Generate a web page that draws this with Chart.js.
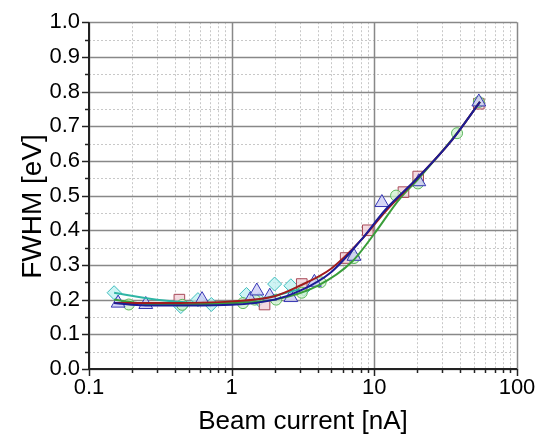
<!DOCTYPE html>
<html>
<head>
<meta charset="utf-8">
<script src="https://cdn.jsdelivr.net/npm/chart.js@4"></script>
<style>
  html, body { margin: 0; padding: 0; background: #fff; }
  #wrap { width: 535px; height: 438px; }
</style>
</head>
<body>
<div id="wrap"><canvas id="myChart" width="535" height="438"></canvas></div>
<script>
// tick positions
const xMajor = [0.1, 1, 10, 100];
const xMinor = [0.2, 0.3, 0.4, 0.5, 0.6, 0.7, 0.8, 0.9, 2, 3, 4, 5, 6, 7, 8, 9, 20, 30, 40, 50, 60, 70, 80, 90];
const yMajor = [0, 0.1, 0.2, 0.3, 0.4, 0.5, 0.6, 0.7, 0.8, 0.9, 1.0];
const yMinor = [0.05, 0.15, 0.25, 0.35, 0.45, 0.55, 0.65, 0.75, 0.85, 0.95];

// measured points
const sqX = [0.43, 1.7, 3.1, 6.3, 9.0, 16, 20.3, 54];
const sqY = [0.20, 0.186, 0.245, 0.32, 0.40, 0.51, 0.555, 0.765];
const ciX = [0.19, 0.45, 1.2, 1.45, 2.05, 3.1, 4.2, 7.2, 14.2, 20.2, 38, 54];
const ciY = [0.186, 0.185, 0.19, 0.20, 0.20, 0.22, 0.25, 0.32, 0.50, 0.535, 0.68, 0.77];
const trX = [0.16, 0.25, 0.62, 1.35, 1.5, 1.85, 2.6, 3.8, 7.2, 11.3, 20.5, 54];
const trY = [0.19, 0.186, 0.20, 0.20, 0.225, 0.21, 0.206, 0.25, 0.325, 0.48, 0.54, 0.77];
const diX = [0.15, 0.44, 0.58, 0.72, 1.27, 1.55, 2.0, 2.6, 3.2];
const diY = [0.22, 0.18, 0.20, 0.186, 0.215, 0.20, 0.245, 0.24, 0.23];

// fitted curves
const fitBlueX = [0.15, 0.25, 0.5, 1, 2, 3, 5, 8, 12, 20, 35, 55];
const fitBlueY = [0.19, 0.183, 0.183, 0.185, 0.20, 0.225, 0.28, 0.37, 0.46, 0.55, 0.66, 0.77];
const fitRedX = [0.15, 0.3, 1, 2, 3, 5, 8, 12, 20, 35, 55];
const fitRedY = [0.19, 0.19, 0.195, 0.21, 0.24, 0.29, 0.37, 0.455, 0.55, 0.66, 0.77];
const fitGreenX = [0.15, 0.3, 1, 2, 4, 7, 10, 15, 20, 38, 55];
const fitGreenY = [0.20, 0.185, 0.19, 0.20, 0.24, 0.31, 0.39, 0.49, 0.545, 0.68, 0.77];
const fitCyanX = [0.15, 0.3, 0.7, 1.5, 3];
const fitCyanY = [0.22, 0.20, 0.19, 0.20, 0.23];

const pts = (xs, ys) => xs.map((v, i) => ({ x: v, y: ys[i] }));
const FONT = "'Liberation Sans', Arial, sans-serif";

function fit(xs, ys, color) {
    return {
        data: pts(xs, ys),
        showLine: true,
        borderColor: color,
        borderWidth: 2,
        pointRadius: 0,
        tension: 0.4,
        cubicInterpolationMode: 'monotone'
    };
}

function marks(xs, ys, style, r, fill, edge) {
    return {
        data: pts(xs, ys),
        showLine: false,
        pointStyle: style,
        pointRadius: r,
        pointBackgroundColor: fill,
        pointBorderColor: edge,
        pointBorderWidth: 1
    };
}

const gridPlugin = {
    id: 'gridPlugin',
    beforeDatasetsDraw(chart) {
        const { ctx, chartArea: a, scales: { x, y } } = chart;
        ctx.save();
        ctx.lineWidth = 1;
        ctx.setLineDash([2, 2]);
        ctx.strokeStyle = '#c8c8c8';
        xMinor.forEach(v => {
            const px = Math.round(x.getPixelForValue(v)) + 0.5;
            ctx.beginPath(); ctx.moveTo(px, a.top); ctx.lineTo(px, a.bottom); ctx.stroke();
        });
        yMinor.forEach(v => {
            const py = Math.round(y.getPixelForValue(v)) + 0.5;
            ctx.beginPath(); ctx.moveTo(a.left, py); ctx.lineTo(a.right, py); ctx.stroke();
        });
        ctx.setLineDash([]);
        ctx.strokeStyle = '#888888';
        ctx.lineWidth = 1.5;
        xMajor.forEach(v => {
            const px = Math.round(x.getPixelForValue(v)) + 0.5;
            ctx.beginPath(); ctx.moveTo(px, a.top); ctx.lineTo(px, a.bottom); ctx.stroke();
        });
        yMajor.forEach(v => {
            const py = Math.round(y.getPixelForValue(v)) + 0.5;
            ctx.beginPath(); ctx.moveTo(a.left, py); ctx.lineTo(a.right, py); ctx.stroke();
        });
        ctx.restore();
    },
    afterDraw(chart) {
        const { ctx, chartArea: a, scales: { x, y } } = chart;
        ctx.save();
        ctx.strokeStyle = '#222';
        ctx.lineWidth = 2;
        ctx.beginPath();
        ctx.moveTo(a.left, a.top); ctx.lineTo(a.left, a.bottom); ctx.lineTo(a.right, a.bottom);
        ctx.stroke();
        ctx.lineWidth = 1.5;
        xMajor.forEach(v => {
            const px = Math.round(x.getPixelForValue(v)) + 0.5;
            ctx.beginPath(); ctx.moveTo(px, a.bottom); ctx.lineTo(px, a.bottom + 7); ctx.stroke();
        });
        xMinor.forEach(v => {
            const px = Math.round(x.getPixelForValue(v)) + 0.5;
            ctx.beginPath(); ctx.moveTo(px, a.bottom); ctx.lineTo(px, a.bottom + 4); ctx.stroke();
        });
        yMajor.forEach(v => {
            const py = Math.round(y.getPixelForValue(v)) + 0.5;
            ctx.beginPath(); ctx.moveTo(a.left, py); ctx.lineTo(a.left - 7, py); ctx.stroke();
        });
        yMinor.forEach(v => {
            const py = Math.round(y.getPixelForValue(v)) + 0.5;
            ctx.beginPath(); ctx.moveTo(a.left, py); ctx.lineTo(a.left - 4, py); ctx.stroke();
        });
        ctx.restore();
    }
};

window.onload = function () {
    const ctx = document.getElementById('myChart').getContext('2d');

    const myChart = new Chart(ctx, {
        type: 'scatter',
        data: {
            datasets: [
                fit(fitBlueX, fitBlueY, '#1c1c96'),
                fit(fitRedX, fitRedY, '#a01c1c'),
                fit(fitGreenX, fitGreenY, '#3a9e3a'),
                fit(fitCyanX, fitCyanY, '#2fb5a5'),
                marks(trX, trY, 'triangle', 8, 'rgba(205,205,245,0.8)', '#3636b4'),
                marks(ciX, ciY, 'circle', 5.5, 'rgba(205,240,205,0.75)', '#5cb85c'),
                marks(sqX, sqY, 'rect', 7.5, 'rgba(240,205,215,0.75)', '#a84a58'),
                marks(diX, diY, 'rectRot', 7, 'rgba(190,240,240,0.75)', '#3cbcbc')
            ]
        },
        options: {
            responsive: false,
            animation: false,
            layout: { padding: { left: 0, right: 0, top: 20, bottom: 0 } },
            plugins: {
                legend: { display: false },
                tooltip: { enabled: false }
            },
            scales: {
                x: {
                    type: 'logarithmic',
                    min: 0.1,
                    max: 100,
                    grid: { display: false, drawTicks: false },
                    border: { display: false },
                    afterBuildTicks: (scale) => {
                        scale.ticks = xMajor.map(v => ({ value: v }));
                    },
                    afterFit: (scale) => {
                        scale.height = 69;
                        scale.paddingLeft = 0;
                        scale.paddingRight = 18;
                    },
                    ticks: {
                        autoSkip: false,
                        maxRotation: 0,
                        padding: 6,
                        color: '#000',
                        font: { family: FONT, size: 22 },
                        callback: (v) => String(v)
                    },
                    title: {
                        display: true,
                        text: 'Beam current [nA]',
                        color: '#000',
                        font: { family: FONT, size: 26 },
                        padding: { top: 0, bottom: 1 }
                    }
                },
                y: {
                    min: 0,
                    max: 1,
                    grid: { display: false, drawTicks: false },
                    border: { display: false },
                    afterFit: (scale) => { scale.width = 89; },
                    ticks: {
                        stepSize: 0.1,
                        padding: 9,
                        color: '#000',
                        font: { family: FONT, size: 22 },
                        callback: (v) => v.toFixed(1)
                    },
                    title: {
                        display: true,
                        text: 'FWHM [eV] \u2002',
                        color: '#000',
                        font: { family: FONT, size: 28 },
                        padding: { top: 16, bottom: 0 }
                    }
                }
            }
        },
        plugins: [gridPlugin]
    });
};
</script>
</body>
</html>
